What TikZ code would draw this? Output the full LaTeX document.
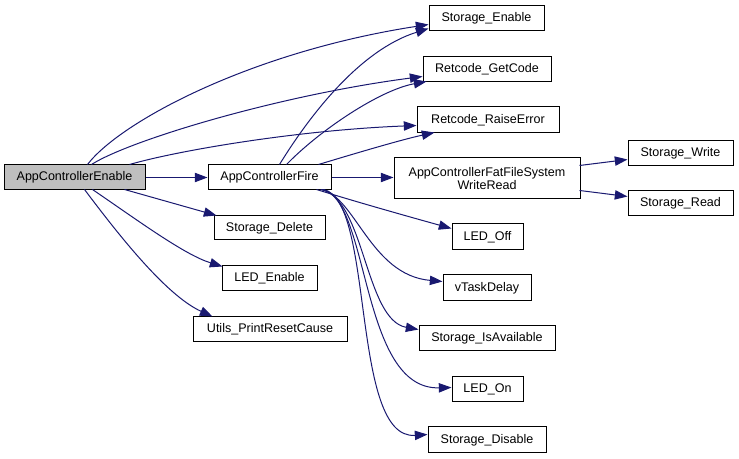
\documentclass[tikz,border=0pt]{standalone}
\usepackage{fontspec}
\setmainfont{Liberation Sans}
\usetikzlibrary{arrows.meta,calc}
\definecolor{edgeblue}{HTML}{191970}
\definecolor{hlgray}{HTML}{BFBFBF}
\newcommand\bx[7][]{\node[box,#1,minimum width={(#4-#2)*0.75pt},minimum height={(#5-#3)*0.75pt}] (#7) at ({(#2+#4)/2},{(#3+#5)/2}) {#6};}
\begin{document}
\begin{tikzpicture}[x=0.75pt,y=-0.75pt,
  box/.style={draw=black,line width=0.75pt,inner sep=0pt,align=center,font=\fontsize{9.4}{11}\selectfont},
  call/.style={draw=edgeblue,line width=0.75pt,-{Triangle[length=9.5pt,width=7pt]}}]
\useasboundingbox (0,0) rectangle (739,459);
\bx[fill=hlgray]{4}{165}{145}{190}{AppControllerEnable}{aen}
\bx{208}{165}{331}{190}{AppControllerFire}{afire}
\bx{214}{216}{325}{240}{Storage\_Delete}{sdel}
\bx{222}{266}{317}{291}{LED\_Enable}{lede}
\bx{193}{317}{347}{342}{Utils\_PrintResetCause}{utils}
\bx{429}{6}{544}{31}{Storage\_Enable}{sen}
\bx{423}{57}{551}{82}{Retcode\_GetCode}{rgc}
\bx{417}{107}{559}{133}{Retcode\_RaiseError}{rre}
\bx{394}{158}{580}{199}{AppControllerFatFileSystem\\[-1pt]WriteRead}{fat}
\bx{628}{141}{733}{166}{Storage\_Write}{sw}
\bx{628}{191}{733}{216}{Storage\_Read}{sr}
\bx{452}{224}{523}{250}{LED\_Off}{loff}
\bx{443}{275}{531}{301}{vTaskDelay}{vtd}
\bx{419}{326}{555}{351}{Storage\_IsAvailable}{sia}
\bx{452}{377}{523}{402}{LED\_On}{lon}
\bx{428}{427}{546}{453}{Storage\_Disable}{sdis}
% edges from AppControllerEnable
\draw[call] (aen.east) -- (afire.west);
\draw[call] ($(aen.north west)+(84,0)$) .. controls (120,122) and (250,52) .. ($(sen.north west)+(0,19)$);
\draw[call] ($(aen.north west)+(88,0)$) .. controls (130,140) and (280,95) .. ($(rgc.north west)+(0,20)$);
\draw[call] ($(aen.north west)+(126,0)$) .. controls (180,150) and (300,130) .. ($(rre.north west)+(0,19)$);
\draw[call] ($(aen.north west)+(121,25)$) -- ($(sdel.north west)+(3,0)$);
\draw[call] ($(aen.north west)+(89,25)$) .. controls (140,222) and (185,255) .. ($(lede.north west)+(1,1)$);
\draw[call] ($(aen.north west)+(81,25)$) .. controls (115,230) and (165,295) .. ($(utils.north west)+(20,0)$);
% edges from AppControllerFire
\draw[call] ($(afire.north west)+(72,0)$) .. controls (310,115) and (360,50) .. ($(sen.north west)+(0,23)$);
\draw[call] ($(afire.north west)+(79,0)$) .. controls (320,130) and (380,90) .. ($(rgc.north west)+(4,25)$);
\draw[call] ($(afire.north west)+(111,0)$) .. controls (350,155) and (400,140) .. ($(rre.north west)+(18,26)$);
\draw[call] (afire.east) -- (afire.east -| fat.west);
\draw[call] ($(afire.north west)+(109,25)$) .. controls (360,203) and (410,217) .. ($(loff.north west)+(0,5)$);
\draw[call] ($(afire.north west)+(113,25)$) .. controls (355,195) and (370,275) .. ($(vtd.north west)+(0,7)$);
\draw[call] ($(afire.north west)+(114,25)$) .. controls (365,200) and (365,320) .. ($(sia.north west)+(0,4)$);
\draw[call] ($(afire.north west)+(115,25)$) .. controls (370,200) and (360,390) .. ($(lon.north west)+(0,11)$);
\draw[call] ($(afire.north west)+(116,25)$) .. controls (375,200) and (350,440) .. ($(sdis.north west)+(0,8)$);
% edges from FatFileSystem
\draw[call] ($(fat.north west)+(186,8)$) -- ($(sw.north west)+(0,19)$);
\draw[call] ($(fat.north west)+(186,33)$) -- ($(sr.north west)+(0,6)$);
\end{tikzpicture}
\end{document}
